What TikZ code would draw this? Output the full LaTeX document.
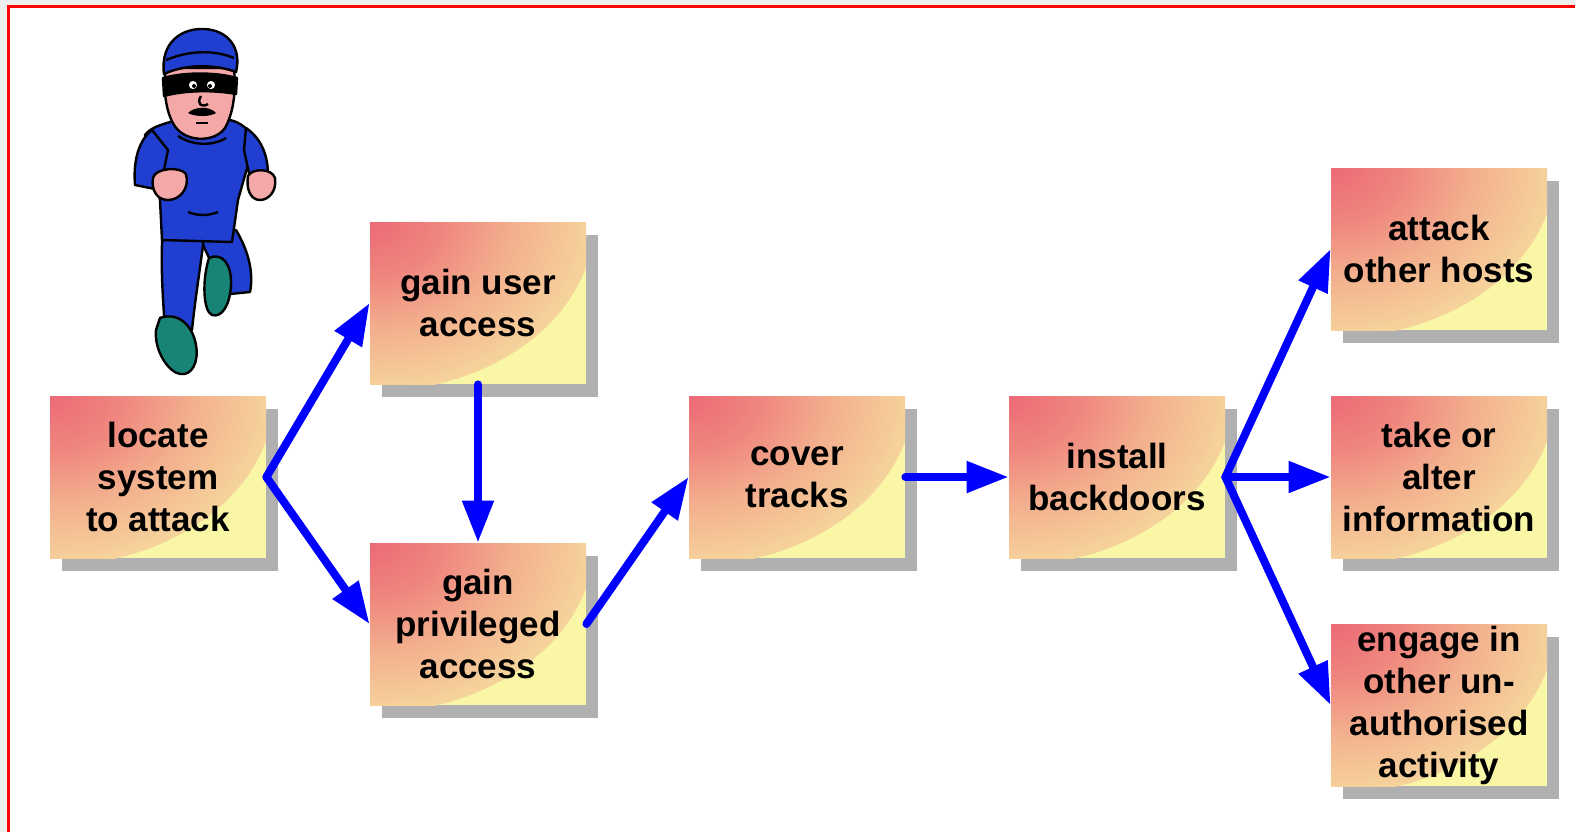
\documentclass[tikz,border=0pt]{standalone}
\usepackage{fontspec}
\setmainfont{Liberation Sans}
\usetikzlibrary{arrows.meta,shadows}

\definecolor{boxred}{RGB}{236,106,118}
\definecolor{boxrose}{RGB}{239,134,126}
\definecolor{boxsalmon}{RGB}{243,176,142}
\definecolor{boxpeach}{RGB}{246,212,156}
\definecolor{boxyellow}{RGB}{249,247,166}
\definecolor{shadowgray}{RGB}{176,176,176}
\definecolor{pagegray}{RGB}{238,238,238}
\definecolor{suitblue}{RGB}{32,62,208}
\definecolor{skin}{RGB}{245,168,168}
\definecolor{shoeteal}{RGB}{24,132,118}

% glow that fades from red to yellow over one ellipse
\pgfdeclareradialshading{cornerglow}{\pgfpoint{0bp}{0bp}}{%
  color(0bp)=(boxred); color(8bp)=(boxrose); color(16bp)=(boxsalmon);
  color(25bp)=(boxpeach); color(32bp)=(boxyellow); color(50bp)=(boxyellow)}

\begin{document}
\begin{tikzpicture}[x=0.5pt,y=-0.5pt,
    stage/.style={fill=boxyellow, minimum width=108pt, minimum height=81pt,
      inner sep=0pt, align=center,
      font=\bfseries\fontsize{17.5pt}{21pt}\selectfont,
      path picture={\shade[shading=cornerglow]
        (path picture bounding box.north west) ellipse (112pt and 85pt);},
      drop shadow={shadow xshift=6pt, shadow yshift=-6.5pt, fill=shadowgray, opacity=1}},
    flow/.style={draw=blue, line width=4pt, line cap=round, line join=round,
      -{Triangle[length=21pt,width=15pt]}},
    ink/.style={draw=black, line width=1.2pt, line join=round},
    suit/.style={ink, fill=suitblue},
    flesh/.style={ink, fill=skin},
    shoe/.style={ink, fill=shoeteal}]
    \useasboundingbox (0,0) rectangle (1575,832);
    \fill[pagegray] (0,0) rectangle (1575,832);
    \fill[white] (8,6) rectangle (1575,832);
    \draw[red, line width=1.5pt] (8,832) -- (8,6) -- (1575,6);

    % burglar
    \filldraw[suit] (196,230) -- (236,230) .. controls (248,250) and (254,272) .. (250,292)
        -- (230,294) .. controls (228,278) and (222,266) .. (210,260) -- cycle;
    \filldraw[shoe] (209,258) .. controls (222,252) and (232,264) .. (231,285)
        .. controls (230,305) and (222,318) .. (212,315) .. controls (203,311) and (202,280) .. (209,258) -- cycle;
    \filldraw[suit] (163,228) -- (205,230) .. controls (200,270) and (195,300) .. (192,330)
        -- (165,330) .. controls (163,300) and (160,260) .. (163,228) -- cycle;
    \filldraw[shoe] (160,318) .. controls (175,312) and (192,322) .. (196,345)
        .. controls (199,362) and (192,376) .. (180,374) .. controls (168,372) and (154,350) .. (156,330) -- cycle;
    \filldraw[suit] (170,122) .. controls (160,125) and (150,128) .. (145,135) -- (160,200)
        -- (162,240) -- (232,242) -- (238,200) -- (255,140) .. controls (250,130) and (240,122) .. (230,120) -- cycle;
    \draw[ink] (178,136) .. controls (193,146) and (213,146) .. (226,138);
    \draw[ink] (188,212) .. controls (198,216) and (208,216) .. (218,212);
    \filldraw[suit] (152,130) .. controls (139,140) and (133,160) .. (135,185) -- (160,190) -- (168,150) -- cycle;
    \filldraw[suit] (246,128) .. controls (261,138) and (268,155) .. (268,175) -- (250,178) -- (244,150) -- cycle;
    \filldraw[flesh] (153,178) .. controls (155,168) and (180,166) .. (186,174)
        .. controls (190,188) and (180,200) .. (168,200) .. controls (157,200) and (151,190) .. (153,178) -- cycle;
    \filldraw[flesh] (248,176) .. controls (252,168) and (272,168) .. (275,178)
        .. controls (277,192) and (268,200) .. (260,200) .. controls (250,200) and (246,188) .. (248,176) -- cycle;
    \filldraw[flesh] (166,68) .. controls (162,95) and (168,120) .. (178,130)
        .. controls (190,142) and (215,142) .. (225,128) .. controls (234,112) and (236,90) .. (234,68) -- cycle;
    \filldraw[suit] (164,74) .. controls (160,42) and (182,28) .. (204,29)
        .. controls (228,30) and (242,48) .. (236,72) .. controls (215,64) and (185,64) .. (164,74) -- cycle;
    \draw[ink] (166,60) .. controls (190,50) and (215,50) .. (234,58);
    \filldraw[ink, fill=black] (163,78) .. controls (185,72) and (215,72) .. (237,78)
        -- (236,94) .. controls (215,90) and (185,90) .. (164,96) -- cycle;
    \filldraw[ink, fill=white] (193,85) circle (5.5) (211,85) circle (5.5);
    \fill (194,86) circle (2) (210,86) circle (2);
    \draw[ink] (201,96) .. controls (196,104) and (202,108) .. (208,104);
    \fill (188,113) .. controls (195,106) and (210,106) .. (216,113)
        .. controls (210,117) and (195,117) .. (188,113) -- cycle;
    \draw[ink] (196,123) -- (208,123);

    % stages of the attack
    \node[stage] (locate) at (158,477) {locate\\system\\to attack};
    \node[stage] (useraccess) at (478,303) {gain user\\access};
    \node[stage] (privaccess) at (478,624) {gain\\privileged\\access};
    \node[stage] (cover) at (797,477) {cover\\tracks};
    \node[stage] (backdoors) at (1117,477) {install\\backdoors};
    \node[stage] (otherhosts) at (1439,249) {attack\\other hosts};
    \node[stage] (alter) at (1439,477) {take or\\alter\\information};
    \node[stage] (engage) at (1439,705) {engage in\\other un-\\authorised\\activity};

    \draw[flow] (locate.east) -- (useraccess.west);
    \draw[flow] (locate.east) -- (privaccess.west);
    \draw[flow] (useraccess.south) -- (privaccess.north);
    \draw[flow] (privaccess.east) -- (cover.west);
    \draw[flow] (cover.east) -- (backdoors.west);
    \draw[flow] (backdoors.east) -- (otherhosts.west);
    \draw[flow] (backdoors.east) -- (alter.west);
    \draw[flow] (backdoors.east) -- (engage.west);
\end{tikzpicture}
\end{document}
